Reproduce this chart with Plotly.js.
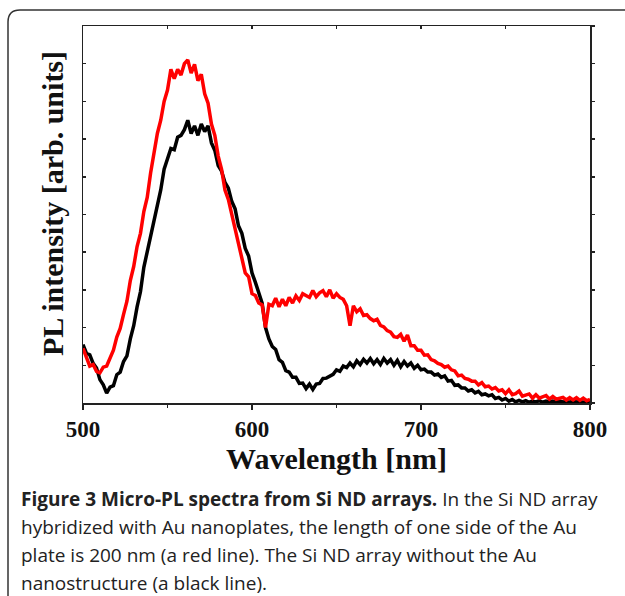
<!DOCTYPE html>
<html><head><meta charset="utf-8">
<script src="https://cdn.plot.ly/plotly-3.0.1.min.js"></script>
<style>html,body{margin:0;padding:0;background:#fff}#chart{width:625px;height:596px}</style>
</head><body><div id="chart"></div>
<script>
// Wavelength grid (nm), every 2 nm from 500 to 800
const wavelength = [];
for (let w = 500; w <= 800; w += 2) wavelength.push(w);

// Si ND array hybridized with Au nanoplates (red line)
const redIntensity = [
1.45,1.22,0.98,1.02,0.84,0.8,0.95,0.98,1.22,1.4,
1.75,1.98,2.35,2.7,3.25,3.62,4.15,4.5,5.08,5.45,
6.1,6.6,7.15,7.5,8.0,8.3,8.85,8.6,8.85,8.7,
9.0,9.1,8.75,8.98,8.55,8.72,8.2,7.95,7.4,7.1,
6.55,6.2,5.65,5.4,5.0,4.65,4.2,3.85,3.45,3.35,
2.9,2.85,2.65,2.6,2.0,2.62,2.58,2.78,2.55,2.75,
2.58,2.8,2.65,2.84,2.72,2.9,2.86,2.8,2.98,2.82,
2.92,2.98,2.82,3.0,2.78,2.9,2.8,2.75,2.58,2.05,
2.58,2.42,2.5,2.32,2.34,2.24,2.18,2.22,2.06,2.02,
1.92,1.88,1.76,1.74,1.82,1.64,1.8,1.52,1.52,1.4,
1.4,1.27,1.28,1.15,1.12,1.05,1.02,0.95,0.98,0.88,
0.85,0.72,0.74,0.65,0.63,0.58,0.58,0.48,0.54,0.43,
0.45,0.37,0.41,0.32,0.35,0.25,0.35,0.22,0.25,0.32,
0.18,0.2,0.24,0.13,0.22,0.13,0.16,0.2,0.1,0.17,
0.1,0.12,0.15,0.08,0.14,0.08,0.14,0.07,0.13,0.06,
0.1
];

// Si ND array without Au nanostructure (black line)
const blackIntensity = [
1.55,1.32,1.28,1.05,0.93,0.62,0.48,0.26,0.42,0.46,
0.75,0.82,1.1,1.25,1.7,2.05,2.55,2.95,3.6,4.0,
4.4,4.75,5.25,5.65,6.2,6.45,6.75,6.72,7.05,7.1,
7.25,7.5,7.15,7.35,7.1,7.4,7.2,7.35,6.9,6.7,
6.3,6.15,5.85,5.7,5.35,5.15,4.7,4.5,4.1,3.9,
3.45,3.2,2.9,2.65,2.0,1.7,1.5,1.42,1.15,1.08,
0.86,0.82,0.68,0.68,0.52,0.53,0.38,0.5,0.36,0.5,
0.52,0.65,0.66,0.72,0.76,0.88,0.84,0.98,0.94,1.06,
0.96,1.12,1.02,1.16,1.06,1.18,1.04,1.15,1.02,1.18,
1.06,1.15,1.0,1.13,0.96,1.1,0.98,1.06,0.92,1.0,
0.88,0.9,0.82,0.82,0.74,0.77,0.68,0.72,0.58,0.6,
0.47,0.48,0.4,0.4,0.32,0.35,0.27,0.31,0.22,0.24,
0.19,0.22,0.12,0.15,0.08,0.12,0.05,0.09,0.03,0.07,
0.03,0.06,0.02,0.05,0.03,0.06,0.02,0.05,0.03,0.05,
0.02,0.05,0.03,0.04,0.02,0.05,0.03,0.04,0.02,0.04,
0.03
];

const xTickVals = [500, 600, 700, 800];
const xTickText = ['<b>500</b>', '<b>600</b>', '<b>700</b>', '<b>800</b>'];
const xTitle = 'Wavelength [nm]';
const yTitle = 'PL intensity [arb. units]';
const captionLines = [
  '<b>Figure 3 Micro-PL spectra from Si ND arrays.</b> In the Si ND array',
  'hybridized with Au nanoplates, the length of one side of the Au',
  'plate is 200 nm (a red line). The Si ND array without the Au',
  'nanostructure (a black line).'
];

// page-pixel geometry of the plot box
const W = 625, H = 596;
const L = 83, R = 590, T = 26, B = 403;
const px = x => (x - L) / (R - L);
const py = y => (B - y) / (B - T);

const serif = 'Liberation Serif, Times New Roman, serif';
const axisCol = '#222';

const traces = [
  {x: wavelength, y: blackIntensity, type: 'scatter', mode: 'lines',
   line: {color: '#000000', width: 3.5}, hoverinfo: 'skip'},
  {x: wavelength, y: redIntensity, type: 'scatter', mode: 'lines',
   line: {color: '#ff0000', width: 3.5}, hoverinfo: 'skip'},
  // invisible point so the mirror axes are drawn
  {x: [500], y: [0], xaxis: 'x2', yaxis: 'y2', mode: 'markers', marker: {opacity: 0}, hoverinfo: 'skip'}
];

const framePath = `M ${px(8)} ${py(H)} L ${px(8)} ${py(22)} Q ${px(8)} ${py(10)} ${px(20)} ${py(10)} L ${px(W)} ${py(10)}`;

const annotations = captionLines.map((t, i) => ({
  text: t, xref: 'paper', yref: 'paper', x: px(19), y: py(499 + i * 28),
  xanchor: 'left', yanchor: 'middle', showarrow: false, align: 'left',
  font: {family: 'Open Sans, sans-serif', size: 19, color: '#222'}
}));
annotations.push({
  text: '<b>' + yTitle + '</b>', textangle: -90, xref: 'paper', yref: 'paper',
  x: px(52), y: py(204), xanchor: 'center', yanchor: 'middle', showarrow: false,
  font: {family: serif, size: 30, color: '#111'}
});

const layout = {
  width: W, height: H,
  margin: {l: L, r: W - R, t: T, b: H - B, pad: 0},
  paper_bgcolor: '#ffffff', plot_bgcolor: '#ffffff',
  showlegend: false,
  xaxis: {
    range: [500, 800], tickvals: xTickVals, ticktext: xTickText,
    ticks: 'outside', ticklen: 5, tickwidth: 1.5, tickcolor: axisCol,
    minor: {dtick: 50, tick0: 500, ticks: 'outside', ticklen: 3, tickwidth: 1.5, tickcolor: axisCol, showgrid: false},
    showline: true, linecolor: axisCol, linewidth: 1.5, showgrid: false, zeroline: false,
    tickfont: {family: serif, size: 23, color: '#111'},
    title: {text: '<b>' + xTitle + '</b>', font: {family: serif, size: 30, color: '#111'}, standoff: 6},
    automargin: false
  },
  xaxis2: {
    range: [500, 800], overlaying: 'x', side: 'top', dtick: 50, tick0: 500,
    ticks: 'inside', ticklen: 3, tickwidth: 1.5, tickcolor: axisCol, showticklabels: false,
    showline: true, linecolor: axisCol, linewidth: 1.5, showgrid: false, zeroline: false
  },
  yaxis: {
    range: [0, 10], dtick: 1, tick0: 0, ticks: 'inside', ticklen: 3, tickwidth: 1.5, tickcolor: axisCol,
    showticklabels: false, showline: true, linecolor: axisCol, linewidth: 1.5, showgrid: false, zeroline: false,
    automargin: false
  },
  yaxis2: {
    range: [0, 10], overlaying: 'y', side: 'right', dtick: 1, tick0: 0,
    ticks: 'outside', ticklen: 3, tickwidth: 1.5, tickcolor: axisCol, showticklabels: false,
    showline: true, linecolor: axisCol, linewidth: 1.5, showgrid: false, zeroline: false
  },
  shapes: [{type: 'path', xref: 'paper', yref: 'paper', path: framePath,
            line: {color: '#333', width: 1.5}}],
  annotations: annotations
};

Plotly.newPlot('chart', traces, layout, {staticPlot: true, displayModeBar: false});
</script></body></html>
